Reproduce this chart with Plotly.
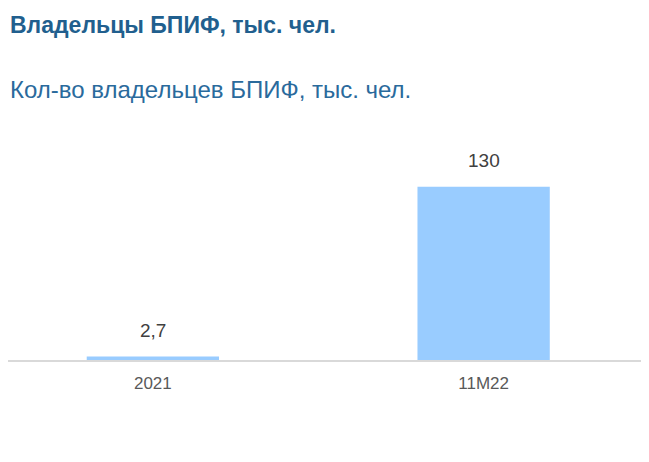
import plotly.graph_objects as go

# data
categories = ["2021", "11M22"]
owners = [2.7, 130]

TITLE = "Владельцы БПИФ, тыс. чел."
SUBTITLE = "Кол-во владельцев БПИФ, тыс. чел."

BAR_COLOR = "#99CCFF"
TITLE_COLOR = "#215F8E"
FONT = "Liberation Sans, Arial, sans-serif"

fig = go.Figure(
    go.Bar(
        x=categories,
        y=owners,
        width=0.4,
        marker=dict(color=BAR_COLOR, line=dict(width=0)),
        hoverinfo="skip",
    )
)

# value labels above bars (category index, so "2021" is not read as a number)
for i, val in enumerate(owners):
    fig.add_annotation(
        x=i,
        y=val,
        text=f"{val:g}".replace(".", ","),
        showarrow=False,
        yanchor="middle",
        yshift=26,
        font=dict(family=FONT, size=19, color="#404040"),
    )

fig.add_annotation(
    xref="paper", yref="paper",
    x=0, y=1.675,
    xanchor="left", yanchor="middle",
    text=f"<b>{TITLE}</b>",
    showarrow=False,
    font=dict(family=FONT, size=23, color=TITLE_COLOR),
)

fig.add_annotation(
    xref="paper", yref="paper",
    x=0, y=1.355,
    xanchor="left", yanchor="middle",
    text=SUBTITLE,
    showarrow=False,
    font=dict(family=FONT, size=24, color="#2A6A9C"),
)

# page body has an 8px margin, so the plot area is shifted to compensate
fig.update_layout(
    width=649,
    height=462,
    margin=dict(l=0, r=8, t=152, b=110),
    paper_bgcolor="white",
    plot_bgcolor="white",
    showlegend=False,
    font=dict(family=FONT),
)

fig.update_xaxes(
    type="category",
    range=[-0.438, 1.5],
    showline=True,
    linecolor="#D9D9D9",
    linewidth=1.5,
    showgrid=False,
    ticks="",
    ticklabelstandoff=7,
    tickfont=dict(family=FONT, size=17, color="#595959"),
)

fig.update_yaxes(
    range=[0, 150],
    visible=False,
)

fig.write_html("out.html")
